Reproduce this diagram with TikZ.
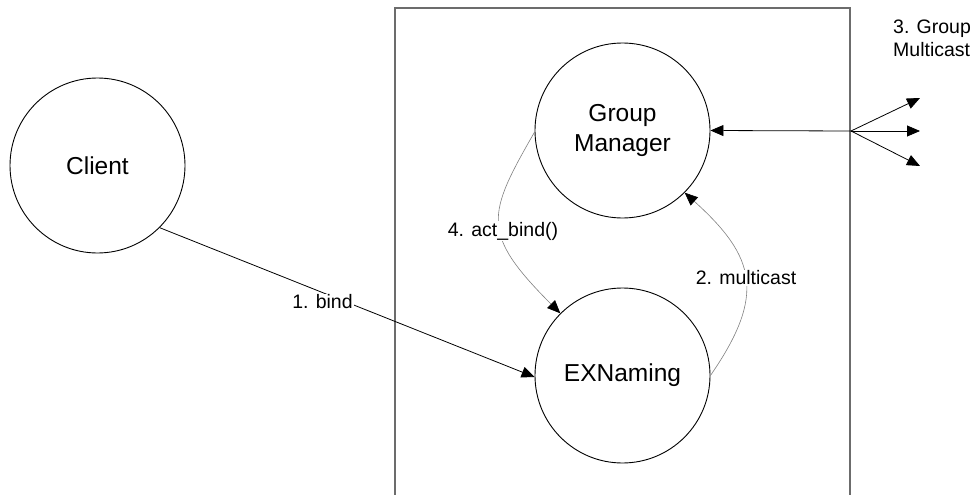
\documentclass[tikz,border=0pt]{standalone}
\usepackage{fontspec}
\setmainfont{Liberation Sans}
\usetikzlibrary{arrows.meta}
\begin{document}
\begin{tikzpicture}[x=1pt,y=-1pt,
  proc/.style={circle,draw,line width=0.9pt,minimum size=175pt,inner sep=0pt,
    align=center,font=\fontsize{24.5}{29.5}\selectfont},
  lbl/.style={font=\fontsize{19.5}{23}\selectfont,fill=white,inner sep=1pt},
  link/.style={line width=0.8pt,-{Triangle[length=13pt,width=11pt]}},
  callarc/.style={draw=gray,line width=0.6pt,
    -{Triangle[length=13pt,width=11pt,color=black,fill=black]}},
  frame/.style={draw=gray!85!black,line width=1.4pt}]
\useasboundingbox (0,0) rectangle (975,495);

% server frame (open at the bottom)
\draw[frame] (395,495) -- (395,8) -- (850,8) -- (850,495);

% processes
\node[proc] (client) at (97.5,165.5) {Client};
\node[proc] (gm) at (622.5,130.5) {Group\\Manager};
\node[proc] (ex) at (622.5,375.5) {EXNaming};

% bind request
\draw[link] (client.-45) -- (ex.181);

% calls between the group manager and the naming service
\draw[callarc] (gm.181) .. controls (487,215) and (480,233) .. (ex.135);
\draw[callarc] (ex.0) .. controls (766,295) and (756,257) .. (gm.-45);

% group multicast fan-out
\coordinate (hub) at (851,131);
\coordinate (out1) at (920,98);
\coordinate (out2) at (920,131);
\coordinate (out3) at (920,166);
\draw[line width=0.8pt,{Triangle[length=13pt,width=11pt]}-] (gm.east) -- (hub);
\draw[link] (hub) -- (out1);
\draw[link] (hub) -- (out2);
\draw[link] (hub) -- (out3);

% labels
\node[lbl] (lbind) at (322.5,302) {1. bind};
\node[lbl] (lact) at (503,231) {4. act\_bind()};
\node[lbl] (lmc) at (746,278) {2. multicast};
\node[font=\fontsize{19.5}{22.5}\selectfont,align=left,anchor=north west,inner sep=0pt]
  (lgroup) at (893,20) {3. Group\\Multicast};
\end{tikzpicture}
\end{document}
